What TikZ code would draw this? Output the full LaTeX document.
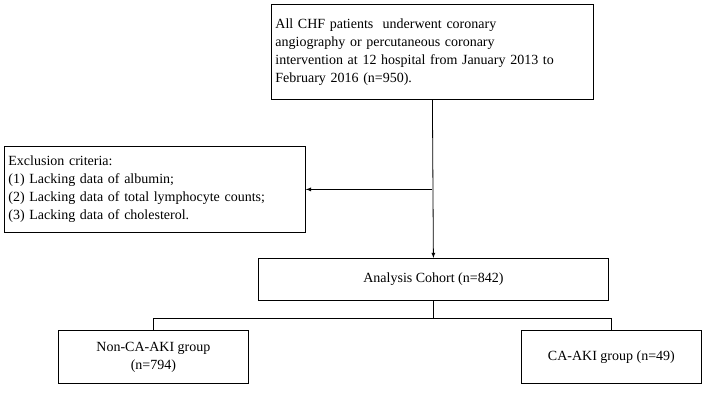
\documentclass[tikz,border=0pt]{standalone}
\usepackage{fontspec}
\setmainfont{Liberation Serif}
\usetikzlibrary{arrows,positioning,calc}
\tikzset{%
	box/.style   = {draw, rectangle, thick, inner sep=4pt, font=\fontsize{14}{18}\selectfont},
	arrow/.style = {thick,-latex,>=stealth},
}
\begin{document}
\begin{tikzpicture}[x=1pt,y=-1pt]
	\useasboundingbox (0,0) rectangle (708,405);
	\node[box, anchor=north west, minimum width=322, minimum height=95, text width=314, align=left] (all) at (271,4)
		{All CHF patients\ \ underwent coronary\\angiography or percutaneous coronary\\intervention at 12 hospital from January 2013 to\\February 2016 (n=950).};
	\node[box, anchor=north west, minimum width=301, minimum height=86, text width=293, align=left] (excl) at (4,146)
		{Exclusion criteria:\\(1) Lacking data of albumin;\\(2) Lacking data of total lymphocyte counts;\\(3) Lacking data of cholesterol.};
	\node[box, anchor=north west, minimum width=350, minimum height=42] (cohort) at (258,258) {Analysis Cohort (n=842)};
	\node[box, anchor=north west, minimum width=190, minimum height=53, align=center] (nonaki) at (58,330) {Non-CA-AKI group\\(n=794)};
	\node[box, anchor=north west, minimum width=180, minimum height=53] (aki) at (521,330) {CA-AKI group (n=49)};
	
	\coordinate (split) at (all.south |- excl.east);
	\draw[arrow] (all.south) -- (cohort.north);
	\draw[arrow] (split) -- (excl.east);
	\coordinate (fork) at ($(cohort.south)+(0,18)$);
	\draw[thick] (cohort.south) -- (fork);
	\draw[thick] (nonaki.north) |- (fork) -| (aki.north);
\end{tikzpicture}
\end{document}
